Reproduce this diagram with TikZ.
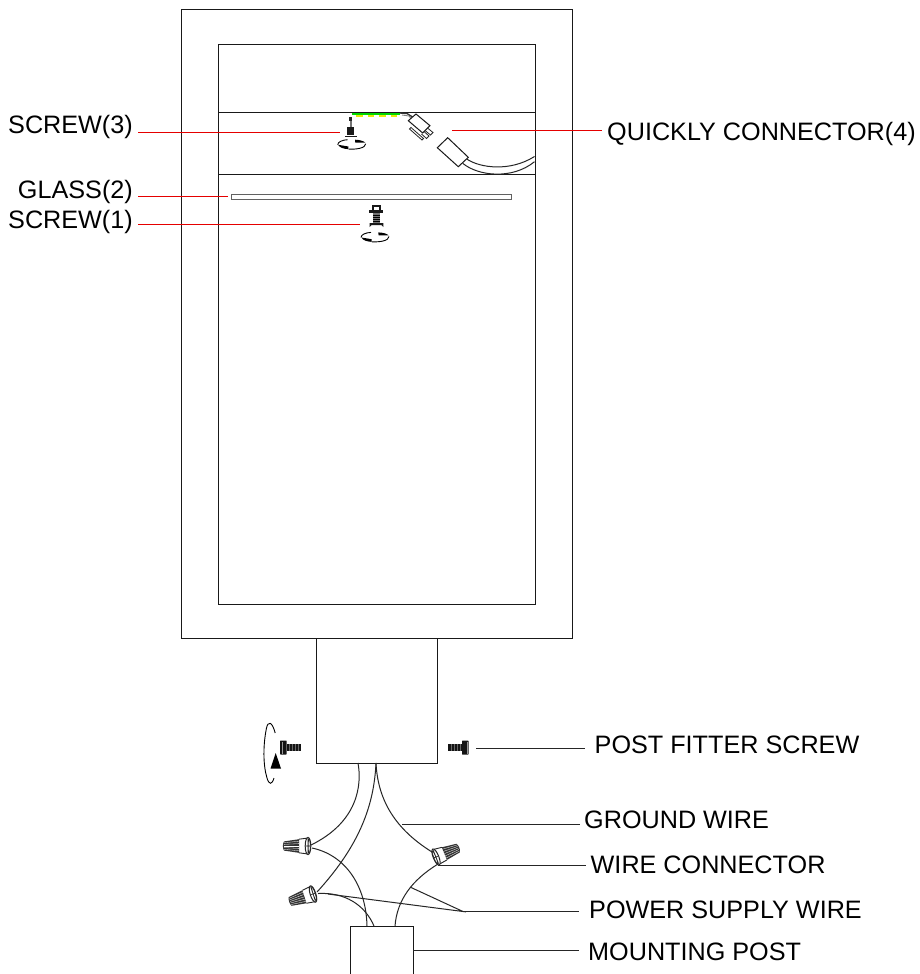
\documentclass[tikz,border=0pt]{standalone}
\usepackage{fontspec}
\usetikzlibrary{calc}
\setmainfont{Liberation Sans}
\begin{document}
\begin{tikzpicture}[x=1pt,y=-1pt,
  frame/.style={draw=black!90,line width=1.2pt},
  wire/.style={draw=black!85,line width=1pt},
  blackleader/.style={draw=black!85,line width=1pt},
  redleader/.style={draw=red!90!black,line width=1pt},
  lab/.style={inner sep=0pt,font=\fontsize{25.2}{28}\selectfont},
  pics/wirenut/.style={code={
    \fill[white] (0,-8) -- (25,-4.5) -- (25,4.5) -- (0,8) -- cycle;
    \fill[black!80] (9,-6.8) -- (24,-4.6) .. controls (25.5,-2) and (25.5,2) .. (24,4.6) -- (9,6.8) -- cycle;
    \foreach \yy in {-4.8,-2.4,0,2.4,4.8}
      \draw[white,line width=0.3pt] (9,\yy) -- (24,\yy*0.68);
    \draw[draw=black!85,line width=0.9pt] (0,-8) -- (9,-6.8) (0,8) -- (9,6.8);
    \draw[draw=black!85,line width=1pt,fill=white] (0,0) ellipse[x radius=2.8,y radius=8.6];
    \draw[draw=black!85,line width=0.6pt] (0,-8) -- (0,8) (-2.5,0) -- (2.5,0) (-1.2,0) ellipse[x radius=1,y radius=7];
  }},
  pics/sideways/.style={code={
    \fill[black!92] (0,-3.4) rectangle (14,3.4);
    \foreach \xx in {3,6,9,12} \draw[black!60,line width=0.3pt] (\xx,-3.4) -- (\xx,3.4);
    \fill[black!92,rounded corners=0.5pt] (14,-7) rectangle (20.5,7);
    \draw[black!40,line width=0.3pt] (18.8,-6) -- (18.8,6);
  }},
  pics/turnarrow/.style={code={
    \draw[black,line width=0.9pt] (-14,0.5) .. controls (-14,-2.5) and (-9,-4.4) .. (-4,-4.6);
    \draw[black,line width=0.9pt] (-3,4.8) .. controls (4,5.2) and (14,4) .. (14,-0.5);
    \fill[black] (-13.6,0.5) -- (-3.3,2.2) -- (-3.3,4.9) .. controls (-8,4.5) and (-12,3.5) .. cycle;
    \fill[black] (13.6,-1.6) -- (3.6,-1.6) -- (3.3,-4.6) .. controls (8,-4.4) and (12,-3.4) .. cycle;
  }}
]
\useasboundingbox (0,0) rectangle (920,974);
\fill[white] (0,0) rectangle (920,974);

% cabinet
\node[frame,fill=none,inner sep=0pt,minimum width=391pt,minimum height=629pt,anchor=north west] (outer) at (181,9) {};
\node[frame,inner sep=0pt,minimum width=317pt,minimum height=560pt,anchor=north west] (inner) at (218,44) {};
\draw[frame,line width=1pt] (218,112.5) -- (535,112.5);
\draw[frame,line width=1pt] (218,174.5) -- (535,174.5);
\node[draw=black!62,fill=white,line width=1.3pt,inner sep=0pt,minimum width=280pt,minimum height=5pt,anchor=north west] (glass) at (231,193.5) {};
\node[frame,inner sep=0pt,minimum width=121pt,minimum height=125pt,anchor=north west] (post) at (316,638) {};
\node[frame,inner sep=0pt,minimum width=63pt,minimum height=60pt,anchor=north west] (mount) at (350,926) {};
\fill[white] (345,973.7) rectangle (418,980);

% LED strip
\fill[green!85!black] (352,112.6) rectangle (400,115.4);
\foreach \xa/\xb in {356/362.7,367.7/374,379/385.7,390.7/397}
  \fill[yellow!90!green] (\xa,115.4) rectangle (\xb,117.3);

% plug
\draw[black!80,line width=1.4pt] (400,113) -- (407,113.5) -- (414,118);
\draw[black!50,line width=0.9pt] (402,115) -- (409,116) -- (412,120);
\draw[frame,fill=white,line width=1pt] (416,114) -- (430,125.7) -- (422.7,133) -- (408.3,120.7) -- cycle;
\draw[black!85,line width=0.8pt] (411,127.5) -- (423.5,138.5) -- (422,140) -- (409.5,129) -- cycle;
\draw[black!85,line width=0.8pt] (424,131.5) -- (429,136) -- (426.5,138.5) -- (421.5,134);
\draw[black!85,line width=0.8pt] (427.5,128) -- (433,132.5) -- (430.5,135) -- (425,130.5);

% socket and cable
\draw[wire] (466.7,159) .. controls (480,168) and (510,172) .. (534.5,156.5);
\draw[wire] (462.7,163.3) .. controls (478,176) and (512,180) .. (534.5,161.7);
\draw[frame,fill=white,line width=1pt] (447.7,137.7) -- (468.3,157.3) -- (458.3,166.7) -- (437.3,147.7) -- cycle;

% screw (3)
\fill[black!85] (349,116.7) rectangle (352.3,121);
\fill[black!55] (349.5,121) rectangle (351.8,126.7);
\fill[black!90] (347.3,126.7) rectangle (354,135);
\fill[black!90] (345,135.5) rectangle (356.7,137.3);
\pic at (351.7,144.3) {turnarrow};

% screw (1)
\fill[black!90] (371.7,205) rectangle (380.7,210);
\fill[white] (373.7,206.6) rectangle (378.7,210);
\fill[black!90] (369.3,210) rectangle (383.3,213.3);
\fill[black!55] (373.3,213.3) rectangle (380,222.5);
\foreach \yy in {215,217,219,221} \draw[black,line width=0.5pt] (373.3,\yy) -- (380,\yy);
\fill[black!90] (369.7,223.2) -- (383.3,223.2) -- (383.3,227) -- (381.3,225) -- (371.7,225) -- (369.7,227) -- cycle;
\pic at (375,237) {turnarrow};

% post-fitter screws and turning arrow
\pic[rotate=180] at (300.7,747.5) {sideways};
\pic at (448,747.5) {sideways};
\draw[black,line width=0.9pt] (275.2,733) .. controls (272,721) and (268,721) .. (266.5,728) .. controls (263,745) and (263,765) .. (267,778) .. controls (269,785) and (272,785) .. (274,778);
\fill[black] (275.7,753) -- (270.5,768.5) -- (281,768.5) -- cycle;

% wire connectors
\pic[rotate=180] (nuta) at (308,846) {wirenut};
\pic[rotate=198] (nutc) at (313,894) {wirenut};
\pic[rotate=22] (nutb) at (436,857) {wirenut};
\coordinate (a1) at (311,845);
\coordinate (a2) at (312,848);
\coordinate (c1) at (317,892);
\coordinate (c2) at (318,893.5);
\coordinate (b1) at (432,852);
\coordinate (b2) at (438,864);

% wires
\coordinate (p1) at (358,763);
\coordinate (p2) at (376,763);
\draw[wire] (p1) .. controls (362,785) and (358,822) .. (a1);
\draw[wire] (p2) .. controls (374,805) and (360,845) .. (c1);
\draw[wire] (p2) .. controls (378,805) and (400,832) .. (b1);
\coordinate (m1) at (367,926);
\coordinate (m2) at (374,926);
\coordinate (m3) at (395,926);
\draw[wire] (a2) .. controls (345,855) and (366,885) .. (m1);
\draw[wire] (c2) .. controls (345,892) and (365,905) .. (m2);
\draw[wire] (b2) .. controls (412,880) and (397,900) .. (m3);

% labels
\node[lab,anchor=base east] (screwthree) at (133,133.3) {SCREW(3)};
\node[lab,anchor=base east] (glasstwo) at (133,198) {GLASS(2)};
\node[lab,anchor=base east] (screwone) at (133,228.3) {SCREW(1)};
\node[lab,anchor=base west] (quick) at (607,140) {QUICKLY CONNECTOR(4)};
\node[lab,anchor=base west] (fitter) at (594.5,753) {POST FITTER SCREW};
\node[lab,anchor=base west] (ground) at (584,828) {GROUND WIRE};
\node[lab,anchor=base west] (connector) at (590.5,873) {WIRE CONNECTOR};
\node[lab,anchor=base west] (power) at (589,918) {POWER SUPPLY WIRE};
\node[lab,anchor=base west] (mountlab) at (588,960) {MOUNTING POST};

% leaders
\coordinate (l3) at (340,132.5);
\coordinate (l2) at (228,196.5);
\coordinate (l1) at (360,224);
\coordinate (l4) at (452,130.5);
\coordinate (lf) at (476,748.5);
\coordinate (lg) at (402,824.5);
\coordinate (lw) at (438,865.5);
\coordinate (lp) at (463,911.5);
\coordinate (lpa) at (410,887);
\coordinate (lpb) at (328,894);
\coordinate (lm) at (413,950.5);
\draw[redleader] ($(screwthree.east |- l3)+(5,0)$) -- (l3);
\draw[redleader] ($(glasstwo.east |- l2)+(5,0)$) -- (l2);
\draw[redleader] ($(screwone.east |- l1)+(5,0)$) -- (l1);
\draw[redleader] (l4) -- ($(quick.west |- l4)+(-5,0)$);
\draw[blackleader] (lf) -- ($(fitter.west |- lf)+(-10,0)$);
\draw[blackleader] (lg) -- ($(ground.west |- lg)+(-4,0)$);
\draw[blackleader] (lw) -- ($(connector.west |- lw)+(-5,0)$);
\draw[blackleader] (lp) -- ($(power.west |- lp)+(-10,0)$);
\draw[wire] (lpa) -- (lp) -- (lpb);
\draw[blackleader] (lm) -- ($(mountlab.west |- lm)+(-9,0)$);
\end{tikzpicture}
\end{document}
